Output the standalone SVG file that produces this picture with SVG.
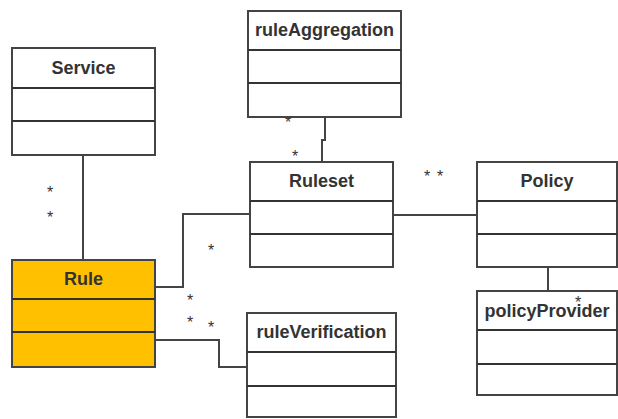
<svg xmlns="http://www.w3.org/2000/svg" width="618" height="419" viewBox="0 0 618 419">
<style>
.box{fill:#fff;stroke:#444;stroke-width:2}
.rule{fill:#FFC000}
.div{stroke:#333;stroke-width:2}
.t{font-family:"Liberation Sans",Arial,sans-serif;font-weight:bold;font-size:18px;fill:#333;text-anchor:middle}
.s{font-family:"Liberation Sans",Arial,sans-serif;font-size:16px;fill:#333;text-anchor:middle}
.c{fill:none;stroke:#444;stroke-width:2}
</style>
<rect width="618" height="419" fill="#fff"/>
<g id="connectors">
<path class="c" d="M83,155V260"/>
<path class="c" d="M325,117V140H322V162"/>
<path class="c" d="M155,287H183V214H250"/>
<path class="c" d="M155,340H219V367H247"/>
<path class="c" d="M393,215H477"/>
<path class="c" d="M548,267V291"/>
</g>
<g id="labels">
<text class="s" x="50" y="198">*</text>
<text class="s" x="50" y="223">*</text>
<text class="s" x="288" y="128">*</text>
<text class="s" x="295" y="162">*</text>
<text class="s" x="211" y="256">*</text>
<text class="s" x="190" y="306">*</text>
<text class="s" x="190" y="328">*</text>
<text class="s" x="211" y="333">*</text>
<text class="s" x="427" y="182">*</text>
<text class="s" x="440" y="182">*</text>
<text class="s" x="579" y="257">*</text>
</g>
<g id="Service">
<rect class="box" x="12" y="48" width="143" height="107"/>
<line class="div" x1="12" y1="88" x2="155" y2="88"/>
<line class="div" x1="12" y1="121" x2="155" y2="121"/>
<text class="t" x="83.5" y="74">Service</text>
</g>
<g id="ruleAggregation">
<rect class="box" x="248" y="11" width="153" height="106"/>
<line class="div" x1="248" y1="50" x2="401" y2="50"/>
<line class="div" x1="248" y1="83" x2="401" y2="83"/>
<text class="t" x="324.5" y="36">ruleAggregation</text>
</g>
<g id="Rule">
<rect class="box rule" x="12" y="260" width="143" height="107"/>
<line class="div" x1="12" y1="299" x2="155" y2="299"/>
<line class="div" x1="12" y1="332" x2="155" y2="332"/>
<text class="t" x="83.5" y="285">Rule</text>
</g>
<g id="Ruleset">
<rect class="box" x="250" y="162" width="143" height="105"/>
<line class="div" x1="250" y1="201" x2="393" y2="201"/>
<line class="div" x1="250" y1="234" x2="393" y2="234"/>
<text class="t" x="321.5" y="187">Ruleset</text>
</g>
<g id="Policy">
<rect class="box" x="477" y="162" width="140" height="105"/>
<line class="div" x1="477" y1="201" x2="617" y2="201"/>
<line class="div" x1="477" y1="234" x2="617" y2="234"/>
<text class="t" x="547" y="187">Policy</text>
</g>
<g id="ruleVerification">
<rect class="box" x="247" y="313" width="149" height="104"/>
<line class="div" x1="247" y1="352" x2="396" y2="352"/>
<line class="div" x1="247" y1="386" x2="396" y2="386"/>
<text class="t" x="321.5" y="338">ruleVerification</text>
</g>
<g id="policyProvider">
<rect class="box" x="477" y="291" width="140" height="104"/>
<line class="div" x1="477" y1="330" x2="617" y2="330"/>
<line class="div" x1="477" y1="364" x2="617" y2="364"/>
<text class="t" x="547" y="317">policyProvider</text>
<text class="s" x="578" y="308">*</text>
</g>
</svg>
